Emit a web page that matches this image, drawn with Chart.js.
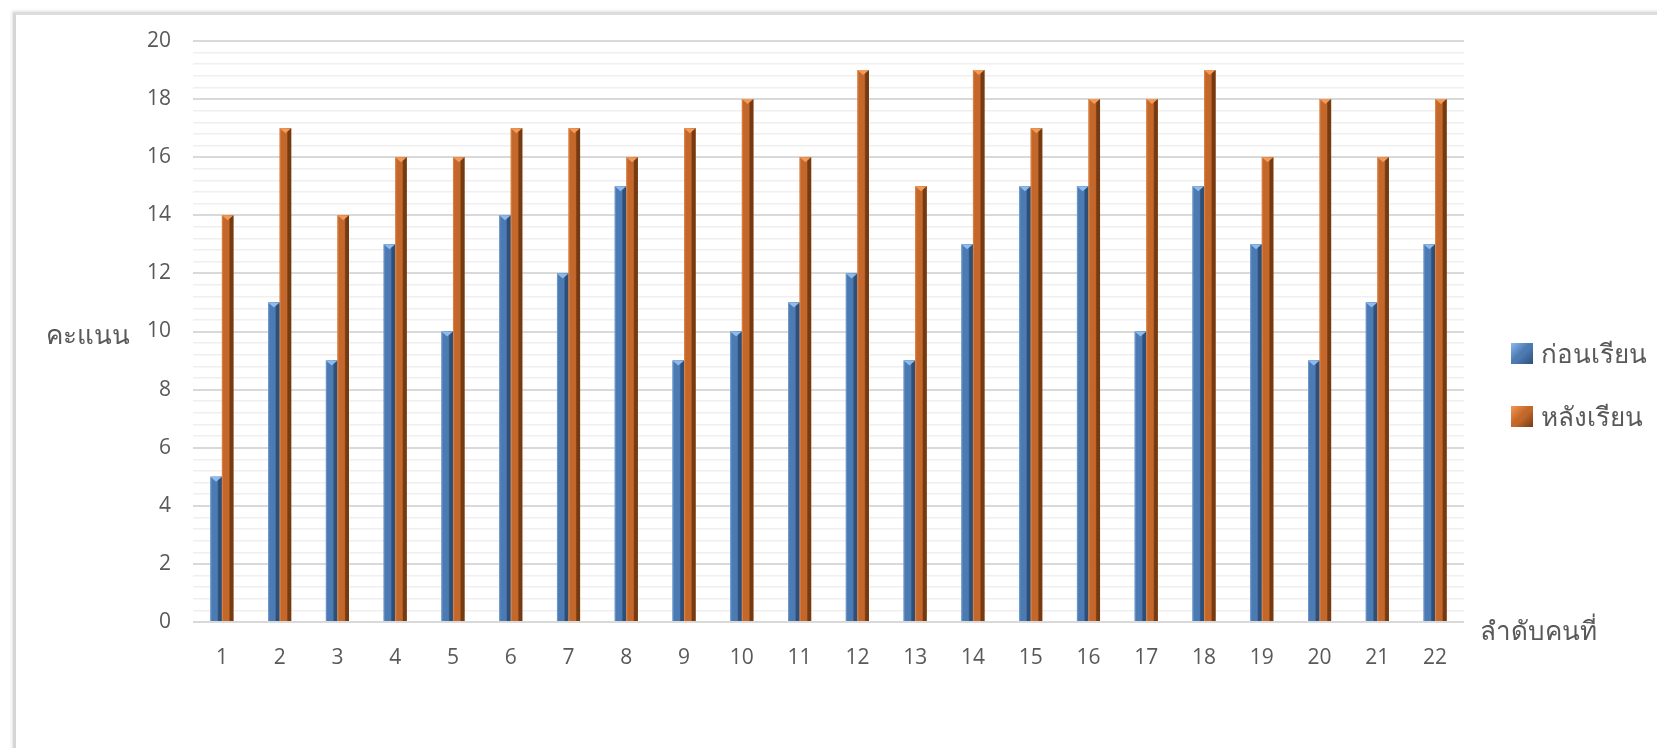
<!DOCTYPE html>
<html>
<head>
<meta charset="utf-8">
<script src="https://cdn.jsdelivr.net/npm/chart.js@4.4.1/dist/chart.umd.min.js"></script>
<style>
  html, body { margin: 0; padding: 0; background: #ffffff; overflow: hidden; }
  #wrap { position: relative; width: 1657px; height: 748px; }
  #frame {
    position: absolute; left: 13px; top: 12px; width: 1700px; height: 800px;
    border-left: 3px solid #d6d6d6; border-top: 3px solid #dcdcdc;
    box-shadow: -1px -1px 3px rgba(0,0,0,0.12);
    box-sizing: border-box;
  }
  canvas { position: absolute; left: 0; top: 0; }
  .lbl { position: absolute; font-family: 'Noto Sans', 'Open Sans', sans-serif; color: #595959; white-space: nowrap; }
  .key { position: absolute; width: 22px; height: 21px; }
</style>
</head>
<body>
<div id="wrap">
  <div id="frame"></div>
  <canvas id="c" width="1657" height="748"></canvas>
  <div class="lbl" id="ytitle" style="left:46px; top:316px; font-size:26px; line-height:36px;">คะแนน</div>
  <div class="lbl" id="xtitle" style="left:1480px; top:612px; font-size:26px; line-height:36px;">ลำดับคนที่</div>
  <div id="legend"></div>
</div>
<script>
// Students 1..22, scores before and after the lesson
const categories = ['1','2','3','4','5','6','7','8','9','10','11','12','13','14','15','16','17','18','19','20','21','22'];
const beforeScores = [5, 11, 9, 13, 10, 14, 12, 15, 9, 10, 11, 12, 9, 13, 15, 15, 10, 15, 13, 9, 11, 13];
const afterScores  = [14, 17, 14, 16, 16, 17, 17, 16, 17, 18, 16, 19, 15, 19, 17, 18, 18, 19, 16, 18, 16, 18];
const seriesNames = ['ก่อนเรียน', 'หลังเรียน'];

const palette = [
  { base: '#4c7ab2', light: '#78a3d6', dark: '#2e4f77', top: '#8dbbee' },
  { base: '#c4672b', light: '#e48c4d', dark: '#743a12', top: '#f39a58' }
];

// HTML legend
const legend = document.getElementById('legend');
seriesNames.forEach((name, i) => {
  const y = 343 + i * 63;
  const key = document.createElement('div');
  key.className = 'key';
  key.style.left = '1511px';
  key.style.top = y + 'px';
  const p = palette[i];
  key.style.background = `linear-gradient(135deg, ${p.top} 0%, ${p.base} 45%, ${p.base} 55%, ${p.dark} 100%)`;
  legend.appendChild(key);
  const t = document.createElement('div');
  t.className = 'lbl';
  t.style.left = '1541px';
  t.style.top = (y - 8) + 'px';
  t.style.fontSize = '26px';
  t.style.lineHeight = '36px';
  t.textContent = name;
  legend.appendChild(t);
});

// bevel shading painted over each bar element
const bevel = {
  id: 'bevel',
  afterDatasetsDraw(chart) {
    const ctx = chart.ctx;
    chart.data.datasets.forEach((ds, di) => {
      const p = palette[di];
      chart.getDatasetMeta(di).data.forEach(bar => {
        const w = bar.width, l = bar.x - w / 2, r = bar.x + w / 2;
        const top = bar.y, bottom = bar.base;
        const g = ctx.createLinearGradient(l, 0, r, 0);
        g.addColorStop(0, p.light);
        g.addColorStop(0.14, p.base);
        g.addColorStop(0.6, p.base);
        g.addColorStop(0.72, p.dark);
        g.addColorStop(1, p.dark);
        ctx.save();
        ctx.fillStyle = g;
        ctx.fillRect(l, top, w, bottom - top);
        ctx.fillStyle = p.top;
        ctx.beginPath();
        ctx.moveTo(l, top);
        ctx.lineTo(r, top);
        ctx.lineTo(bar.x, top + 5);
        ctx.closePath();
        ctx.fill();
        ctx.restore();
      });
    });
  }
};

const isMajor = v => Math.abs(v - Math.round(v)) < 1e-6 && Math.round(v) % 2 === 0;

new Chart(document.getElementById('c'), {
  type: 'bar',
  data: {
    labels: categories,
    datasets: [
      { label: seriesNames[0], data: beforeScores, backgroundColor: palette[0].base },
      { label: seriesNames[1], data: afterScores, backgroundColor: palette[1].base }
    ]
  },
  options: {
    responsive: false,
    animation: false,
    layout: { padding: { left: 0, top: 41, right: 193, bottom: 0 } },
    plugins: { legend: { display: false }, tooltip: { enabled: false } },
    datasets: { bar: { barPercentage: 1, categoryPercentage: 0.4 } },
    scales: {
      x: {
        grid: { display: false },
        border: { display: false },
        ticks: { color: '#595959', font: { family: "'Open Sans'", size: 21 }, padding: 15 },
        afterFit(s) { s.height = 126; }
      },
      y: {
        min: 0, max: 20,
        border: { display: false },
        grid: {
          color: c => isMajor(c.tick.value) ? '#d9d9d9' : '#efefef',
          lineWidth: c => isMajor(c.tick.value) ? 2 : 1.5,
          drawTicks: false
        },
        ticks: {
          stepSize: 0.4, maxTicksLimit: 100, autoSkip: false,
          color: '#595959', font: { family: "'Open Sans'", size: 21 }, padding: 22,
          callback: v => isMajor(v) ? String(Math.round(v)) : ''
        },
        afterFit(s) { s.width = 193; }
      }
    }
  },
  plugins: [bevel]
});
</script>
</body>
</html>
